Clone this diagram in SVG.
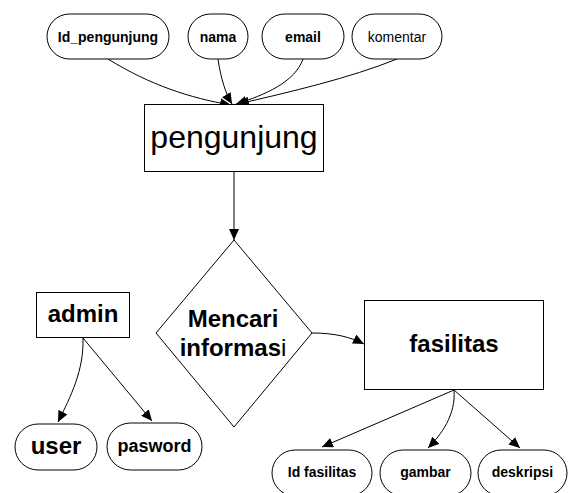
<svg xmlns="http://www.w3.org/2000/svg" width="568" height="493" viewBox="0 0 568 493">
  <style>
    .shape { fill: #ffffff; stroke: #000000; stroke-width: 1; }
    .link { fill: none; stroke: #000000; stroke-width: 1; marker-end: url(#arrow); }
    text { font-family: "Liberation Sans", Arial, sans-serif; fill: #000000; text-anchor: middle; }
    .b { font-weight: bold; }
  </style>
  <defs>
    <marker id="arrow" markerUnits="userSpaceOnUse" markerWidth="12" markerHeight="10" refX="11" refY="5" orient="auto">
      <path d="M0,0 L11,5 L0,10 Z" fill="#000000"/>
    </marker>
  </defs>
  <rect width="568" height="493" fill="#ffffff"/>

  <!-- connectors -->
  <g id="connectors">
    <path class="link" d="M108,59 C150,85 190,98 231,105"/>
    <path class="link" d="M218,59 C221,80 226,94 232,104"/>
    <path class="link" d="M303,59 C295,82 265,95 236,104"/>
    <path class="link" d="M397,59 C350,78 290,92 238,104"/>
    <path class="link" d="M234,172 L234,240"/>
    <path class="link" d="M312,333 C335,333 350,337 364,344"/>
    <path class="link" d="M83,338 C84,370 71,396 58,422"/>
    <path class="link" d="M83,338 L152,421"/>
    <path class="link" d="M454,390 L322,447"/>
    <path class="link" d="M454,390 C456,415 441,435 428,448"/>
    <path class="link" d="M454,390 L520,448"/>
  </g>

  <!-- pengunjung attributes -->
  <g id="id_pengunjung">
    <rect class="shape" x="47" y="14" width="122" height="45" rx="22.5"/>
    <text class="b" x="108" y="41.5" font-size="14">Id_pengunjung</text>
  </g>
  <g id="nama">
    <rect class="shape" x="188" y="14" width="60" height="45" rx="22.5"/>
    <text class="b" x="218" y="41.5" font-size="14">nama</text>
  </g>
  <g id="email">
    <rect class="shape" x="262" y="14" width="82" height="45" rx="22.5"/>
    <text class="b" x="303" y="41.5" font-size="14">email</text>
  </g>
  <g id="komentar">
    <rect class="shape" x="352" y="14" width="90" height="45" rx="22.5"/>
    <text x="397" y="41.5" font-size="14">komentar</text>
  </g>

  <!-- entities -->
  <g id="pengunjung">
    <rect class="shape" x="144.5" y="104.5" width="179" height="67"/>
    <text x="234" y="148" font-size="32">pengunjung</text>
  </g>

  <g id="mencari_informasi">
    <polygon class="shape" points="234,240 312,333 234,427 156,333"/>
    <text class="b" x="233" y="327" font-size="24">Mencari</text>
    <text x="233" y="356" font-size="24"><tspan class="b">informas</tspan>i</text>
  </g>

  <g id="admin">
    <rect class="shape" x="36.5" y="292.5" width="93" height="45"/>
    <text class="b" x="83" y="322" font-size="24">admin</text>
  </g>
  <g id="user">
    <rect class="shape" x="15" y="424" width="82" height="46" rx="23"/>
    <text class="b" x="56" y="454" font-size="24">user</text>
  </g>
  <g id="pasword">
    <rect class="shape" x="107" y="423" width="95" height="47" rx="23.5"/>
    <text class="b" x="154.5" y="452" font-size="18">pasword</text>
  </g>

  <g id="fasilitas">
    <rect class="shape" x="364.5" y="300.5" width="179" height="89"/>
    <text class="b" x="454" y="352" font-size="24">fasilitas</text>
  </g>
  <g id="id_fasilitas">
    <rect class="shape" x="272" y="450" width="100" height="46" rx="23"/>
    <text class="b" x="322" y="477" font-size="14">Id fasilitas</text>
  </g>
  <g id="gambar">
    <rect class="shape" x="380" y="450" width="91" height="46" rx="23"/>
    <text class="b" x="425.5" y="477" font-size="14">gambar</text>
  </g>
  <g id="deskripsi">
    <rect class="shape" x="478" y="450" width="89" height="46" rx="23"/>
    <text class="b" x="522.5" y="477" font-size="14">deskripsi</text>
  </g>
</svg>
